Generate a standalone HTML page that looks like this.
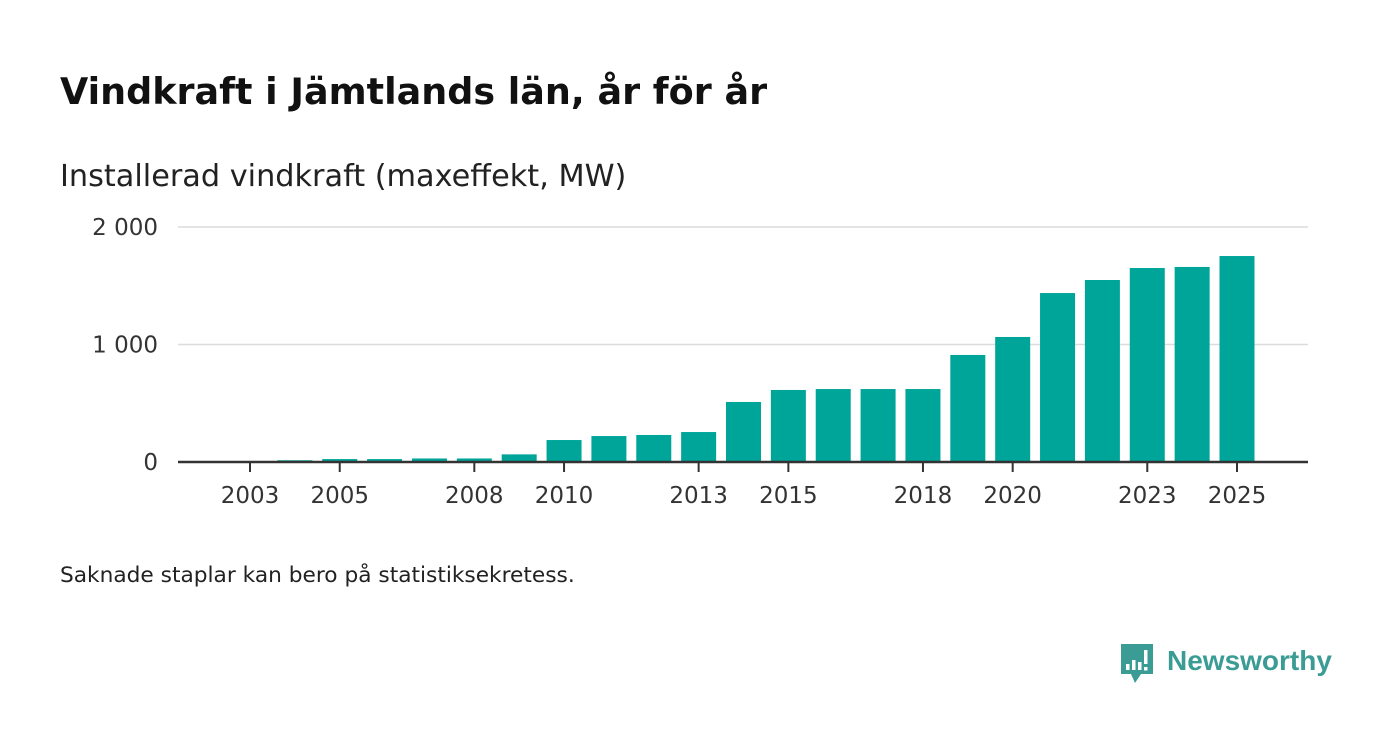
<!DOCTYPE html>
<html><head><meta charset="utf-8"><style>
body{margin:0;width:1400px;height:745px;background:#fff;font-family:"DejaVu Sans","Liberation Sans",sans-serif;color:#111;overflow:hidden}
</style></head><body>
<svg width="1400" height="745" xmlns="http://www.w3.org/2000/svg">
<text x="60" y="104" font-size="36.5" font-weight="bold" fill="#111">Vindkraft i Jämtlands län, år för år</text>
<text x="60" y="186" font-size="30.3" fill="#222">Installerad vindkraft (maxeffekt, MW)</text>
<g id="plot"></g>
<text x="60" y="582" font-size="21.7" fill="#222">Saknade staplar kan bero på statistiksekretess.</text>
<g>
<path d="M1121 644h32v30h-12l-6 9-4-9h-10z" fill="#3a9c94"/>
<rect x="1126" y="664" width="3.5" height="6" fill="#fff"/><rect x="1132" y="660" width="3.5" height="10" fill="#fff"/><rect x="1138" y="662" width="3.5" height="8" fill="#fff"/><rect x="1144" y="650" width="3.5" height="14" fill="#fff"/><rect x="1144" y="667" width="3.5" height="3.5" fill="#fff"/>
<text x="1167" y="670" font-size="28" font-weight="bold" fill="#3a9c94" font-family="Liberation Sans, sans-serif">Newsworthy</text>
</g>
</svg>
<script>
const years=[2003,2004,2005,2006,2007,2008,2009,2010,2011,2012,2013,2014,2015,2016,2017,2018,2019,2020,2021,2022,2023,2024,2025];
const values=[0,15,25,25,30,30,65,187,221,230,255,511,613,621,621,621,911,1064,1438,1549,1651,1660,1753];
const yTicks=[0,1000,2000];
const yTickLabels=["0","1 000","2 000"];
const xLabels=[2003,2005,2008,2010,2013,2015,2018,2020,2023,2025];
const ns="http://www.w3.org/2000/svg";
const g=document.getElementById('plot');
const x=v=>250+(v-2003)*(1237-250)/22;
const y=v=>462-v*0.1175;
function mk(t,a){const e=document.createElementNS(ns,t);for(const k in a)e.setAttribute(k,a[k]);g.appendChild(e);return e;}
yTicks.forEach((t,i)=>{
  if(t>0){const l=mk('line',{x1:178,x2:1308,y1:y(t),y2:y(t),stroke:'#dcdcdc','stroke-width':1.5});
  
  }
  const tx=mk('text',{x:158,y:y(t)+8,'font-size':23,'text-anchor':'end',fill:'#333'});
  tx.textContent=yTickLabels[i];
  
  
});
years.forEach((yr,i)=>{
  if(values[i]<=0)return;
  const r=mk('rect',{x:x(yr)-17.5,y:y(values[i]),width:35,height:462-y(values[i]),fill:'#00a59a'});
  
  
});
const ax=mk('line',{x1:178,x2:1308,y1:462,y2:462,stroke:'#333','stroke-width':2.5});


xLabels.forEach(yr=>{
  const tk=mk('line',{x1:x(yr),x2:x(yr),y1:462,y2:472,stroke:'#333','stroke-width':2});
  
  
  const tx=mk('text',{x:x(yr),y:503,'font-size':23,'text-anchor':'middle',fill:'#333'});
  tx.textContent=yr;
  
  
});
</script>
</body></html>
